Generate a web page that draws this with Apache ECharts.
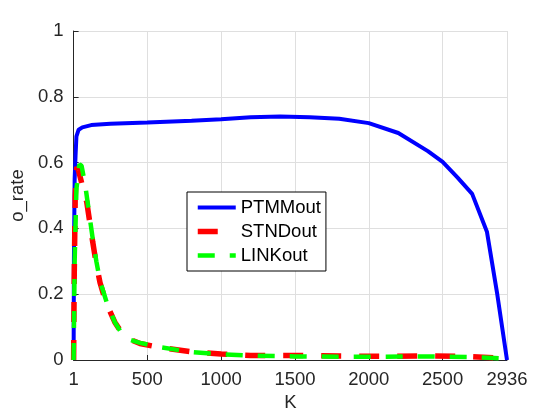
<!DOCTYPE html>
<html>
<head>
<meta charset="utf-8">
<title>o_rate</title>
<script src="https://cdn.jsdelivr.net/npm/echarts@6/dist/echarts.min.js"></script>
<style>
    html, body { margin: 0; padding: 0; background: #fff; }
    #chart { width: 560px; height: 420px; }
</style>
</head>
<body>
<div id="chart"></div>
<script>
//数据
var xTicks = [1, 500, 1000, 1500, 2000, 2500, 2936];

var kPTMM   = [1, 3, 8, 14, 20, 35, 60, 120, 250, 500, 800, 1000, 1200, 1400, 1600, 1800, 2000, 2200, 2400, 2500, 2600, 2700, 2800, 2870, 2936];
var valPTMM = [0, 0.30, 0.55, 0.62, 0.68, 0.70, 0.707, 0.714, 0.718, 0.722, 0.727, 0.732, 0.738, 0.740, 0.738, 0.733, 0.720, 0.690, 0.635, 0.602, 0.555, 0.505, 0.390, 0.200, 0];

var kSTND   = [1, 5, 12, 22, 35, 60, 90, 110, 130, 155, 180, 220, 280, 330, 380, 450, 600, 800, 1000, 1200, 1500, 1800, 2100, 2400, 2700, 2936];
var valSTND = [0, 0.25, 0.50, 0.587, 0.575, 0.53, 0.48, 0.42, 0.36, 0.29, 0.235, 0.175, 0.115, 0.08, 0.063, 0.05, 0.037, 0.025, 0.018, 0.014, 0.014, 0.012, 0.011, 0.013, 0.010, 0.005];

var kLINK   = [1, 8, 20, 40, 55, 80, 105, 130, 155, 180, 225, 280, 330, 380, 450, 600, 800, 1000, 1200, 1500, 1800, 2100, 2400, 2700, 2850, 2936];
var valLINK = [0, 0.30, 0.52, 0.595, 0.59, 0.53, 0.45, 0.37, 0.30, 0.24, 0.175, 0.115, 0.078, 0.062, 0.052, 0.038, 0.024, 0.017, 0.013, 0.011, 0.010, 0.010, 0.011, 0.009, 0.006, 0.004];

function pairUp(ks, vs){
    var out = [];
    for(let i in ks)
        out.push([ks[i], vs[i]]);
    return out;
}

var fontName = '"Liberation Sans", Arial, Helvetica, sans-serif';
var textColor = '#262626';

var chart = echarts.init(document.getElementById('chart'));
chart.setOption({
    animation: false,
    backgroundColor: '#fff',
    textStyle: { fontFamily: fontName },
    grid: { left: 73, right: 53, top: 31, bottom: 60 },
    legend: {
        orient: 'vertical',
        left: 187,
        top: 192,
        padding: [6, 5, 6, 8],
        itemGap: 5,
        itemWidth: 38,
        itemHeight: 14,
        backgroundColor: '#fff',
        borderColor: '#000',
        borderWidth: 1,
        borderRadius: 0,
        itemStyle: { opacity: 0 },      //只显示线, 不显示圆点
        lineStyle: { width: 'inherit' },
        textStyle: { fontSize: 18.5, color: '#000', fontFamily: fontName },
        data: ['PTMMout', 'STNDout', 'LINKout']
    },
    xAxis: {
        type: 'value',
        min: 1,
        max: 2936,
        name: 'K',
        nameLocation: 'middle',
        nameGap: 33,
        nameTextStyle: { fontSize: 18.5, color: textColor },
        axisLine: { lineStyle: { color: textColor, width: 1 } },
        axisTick: { show: true, inside: true, length: 5, customValues: xTicks, lineStyle: { color: textColor } },
        axisLabel: {
            customValues: xTicks,
            fontSize: 18.5,
            color: textColor,
            margin: 10,
            formatter: function(v){ return String(v); }
        },
        splitLine: { show: true, lineStyle: { color: '#dfdfdf', width: 1 } }
    },
    yAxis: {
        type: 'value',
        min: 0,
        max: 1,
        interval: 0.2,
        name: 'o_rate',
        nameLocation: 'middle',
        nameGap: 40,
        nameTextStyle: { fontSize: 18.5, color: textColor },
        axisLine: { show: true, lineStyle: { color: textColor, width: 1 } },
        axisTick: { show: true, inside: true, length: 5, lineStyle: { color: textColor } },
        axisLabel: { fontSize: 18.5, color: textColor, margin: 10 },
        splitLine: { show: true, lineStyle: { color: '#dfdfdf', width: 1 } }
    },
    series: [
        {
            name: 'PTMMout',
            type: 'line',
            symbol: 'none',
            data: pairUp(kPTMM, valPTMM),
            lineStyle: { color: '#0000ff', width: 4 },
            itemStyle: { color: '#0000ff' },
            z: 2
        },
        {
            name: 'STNDout',
            type: 'line',
            symbol: 'none',
            data: pairUp(kSTND, valSTND),
            lineStyle: { color: '#ff0000', width: 5.5, type: [20, 18], cap: 'butt' },
            itemStyle: { color: '#ff0000' },
            z: 3
        },
        {
            name: 'LINKout',
            type: 'line',
            symbol: 'none',
            data: pairUp(kLINK, valLINK),
            lineStyle: { color: '#00ff00', width: 4.5, type: [17, 15], cap: 'butt' },
            itemStyle: { color: '#00ff00' },
            z: 4
        }
    ]
});
</script>
</body>
</html>
